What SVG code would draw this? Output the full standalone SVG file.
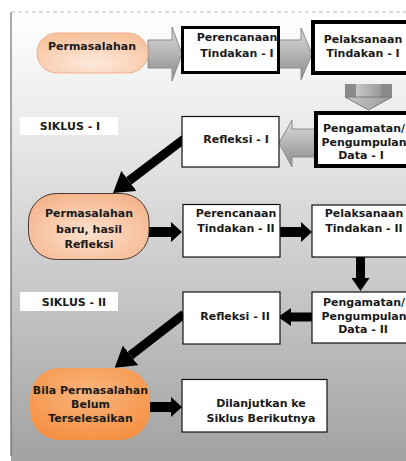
<svg xmlns="http://www.w3.org/2000/svg" width="406" height="461" viewBox="0 0 406 461">
<defs>
<linearGradient id="bg" x1="0" y1="0" x2="0" y2="1">
<stop offset="0" stop-color="#ffffff"/>
<stop offset="0.3" stop-color="#e6e6e6"/>
<stop offset="0.65" stop-color="#c4c4c4"/>
<stop offset="1" stop-color="#a2a2a2"/>
</linearGradient>
<linearGradient id="grayArrow" x1="0" y1="0" x2="0" y2="1">
<stop offset="0" stop-color="#dcdcdc"/>
<stop offset="1" stop-color="#8a8a8a"/>
</linearGradient>
<linearGradient id="grayArrowV" x1="0" y1="0" x2="1" y2="0">
<stop offset="0" stop-color="#c8c8c8"/>
<stop offset="1" stop-color="#9a9a9a"/>
</linearGradient>
<radialGradient id="pill1" cx="0.5" cy="0.75" r="0.7">
<stop offset="0" stop-color="#fde9dc"/>
<stop offset="1" stop-color="#f8c39f"/>
</radialGradient>
<radialGradient id="pill2" cx="0.5" cy="0.6" r="0.7">
<stop offset="0" stop-color="#fde1cd"/>
<stop offset="1" stop-color="#f4b087"/>
</radialGradient>
<radialGradient id="pill3" cx="0.5" cy="0.35" r="0.75">
<stop offset="0" stop-color="#f9b67f"/>
<stop offset="1" stop-color="#f58c3c"/>
</radialGradient>
<marker id="headH" markerUnits="userSpaceOnUse" markerWidth="11" markerHeight="20" viewBox="0 0 11 20" refX="0" refY="10" orient="auto">
<path d="M0,0 L11,10 L0,20 z" fill="#000"/>
</marker>
<marker id="headS" markerUnits="userSpaceOnUse" markerWidth="13" markerHeight="18" viewBox="0 0 13 18" refX="0" refY="9" orient="auto">
<path d="M0,0 L13,9 L0,18 z" fill="#000"/>
</marker>
<marker id="headD" markerUnits="userSpaceOnUse" markerWidth="20" markerHeight="25" viewBox="0 0 20 25" refX="0" refY="12.5" orient="auto">
<path d="M0,0 L20,12.5 L0,25 z" fill="#000"/>
</marker>
</defs>
<style>
text{font-family:"DejaVu Sans","Verdana",sans-serif;font-weight:bold;font-size:11px;fill:#1a1a1a;text-anchor:middle}
.box{fill:#fff;stroke:#111;stroke-width:1.2}
.thick3{fill:#fff;stroke:#000;stroke-width:3}
.thick4{fill:#fff;stroke:#000;stroke-width:4}
.blk{stroke:#000;fill:none}
.gray{fill:url(#grayArrow);stroke:#8c8c8c;stroke-width:1}
.label{fill:#fff}
</style>
<rect x="11" y="12" width="400" height="449" fill="url(#bg)"/>
<line x1="11" y1="12" x2="11" y2="456" stroke="#555" stroke-width="1"/>
<line x1="11" y1="12" x2="406" y2="12" stroke="#bbb" stroke-width="1" stroke-dasharray="4 3"/>

<g id="connectors">
<polygon class="gray" points="148,40 172,40 172,27 182,54 172,81 172,68 148,68"/>
<polygon class="gray" points="279,40 301,40 301,28 312,54 301,80 301,68 279,68"/>
<rect x="345" y="84" width="47" height="13" fill="#8a8a8a"/>
<rect x="356" y="84" width="25" height="14" fill="url(#grayArrowV)"/>
<polygon points="345,97 392,97 368.5,110" fill="url(#grayArrowV)" stroke="#7a7a7a" stroke-width="1"/>
<polygon class="gray" points="315,129 292,129 292,120 279,143 292,167 292,157 315,157"/>
<line class="blk" x1="184" y1="139" x2="128.9" y2="180.9" stroke-width="9" marker-end="url(#headD)"/>
<line class="blk" x1="149" y1="232" x2="171" y2="232" stroke-width="10" marker-end="url(#headH)"/>
<line class="blk" x1="280" y1="232" x2="301" y2="232" stroke-width="10" marker-end="url(#headH)"/>
<line class="blk" x1="360.5" y1="257" x2="360.5" y2="278" stroke-width="9" marker-end="url(#headS)"/>
<line class="blk" x1="312" y1="317" x2="291" y2="317" stroke-width="9" marker-end="url(#headS)"/>
<line class="blk" x1="184" y1="314" x2="130.5" y2="355.4" stroke-width="9" marker-end="url(#headD)"/>
<line class="blk" x1="150" y1="407" x2="171" y2="407" stroke-width="10" marker-end="url(#headH)"/>
</g>

<g id="siklus1">
<rect class="label" x="20" y="117" width="98" height="18"/>
<text x="70" y="130">SIKLUS - I</text>
</g>
<g id="siklus2">
<rect class="label" x="20" y="292" width="98" height="19"/>
<text x="74" y="306">SIKLUS - II</text>
</g>

<g id="permasalahan">
<rect x="37" y="33" width="111" height="40" rx="20" fill="url(#pill1)" stroke="#f0b088" stroke-width="1"/>
<text x="92" y="50">Permasalahan</text>
</g>
<g id="perencanaan1">
<rect class="thick3" x="182.5" y="27.5" width="96" height="45"/>
<text x="237" y="41">Perencanaan</text>
<text x="237" y="57">Tindakan - I</text>
</g>
<g id="pelaksanaan1">
<rect class="thick4" x="313" y="22" width="100" height="51"/>
<text x="363" y="43">Pelaksanaan</text>
<text x="363" y="57">Tindakan - I</text>
</g>
<g id="pengamatan1">
<rect class="thick4" x="316" y="113" width="100" height="53"/>
<text x="364" y="132">Pengamatan/</text>
<text x="364" y="146">Pengumpulan</text>
<text x="361" y="159">Data - I</text>
</g>
<g id="refleksi1">
<rect class="box" x="182" y="116.5" width="97" height="50.5"/>
<text x="236" y="143">Refleksi - I</text>
</g>

<g id="permasalahanBaru">
<rect x="28.5" y="193.5" width="120.5" height="66" rx="28" fill="url(#pill2)" stroke="#4a3a30" stroke-width="1"/>
<text x="89" y="217">Permasalahan</text>
<text x="89" y="233">baru, hasil</text>
<text x="89" y="248">Refleksi</text>
</g>
<g id="perencanaan2">
<rect class="box" x="183" y="204.5" width="97" height="52.5"/>
<text x="236" y="217">Perencanaan</text>
<text x="236" y="232">Tindakan - II</text>
</g>
<g id="pelaksanaan2">
<rect class="box" x="312" y="205" width="100" height="52"/>
<text x="364" y="217">Pelaksanaan</text>
<text x="364" y="232">Tindakan - II</text>
</g>
<g id="pengamatan2">
<rect class="box" x="312" y="292" width="100" height="51"/>
<text x="364" y="306">Pengamatan/</text>
<text x="364" y="320">Pengumpulan</text>
<text x="363" y="333">Data - II</text>
</g>
<g id="refleksi2">
<rect class="box" x="183" y="292" width="97" height="52"/>
<text x="235" y="320">Refleksi - II</text>
</g>

<g id="bila">
<rect x="30" y="368" width="120" height="72" rx="30" fill="url(#pill3)"/>
<text x="90.5" y="394">Bila Permasalahan</text>
<text x="90.5" y="408">Belum</text>
<text x="90.5" y="422">Terselesaikan</text>
</g>
<g id="dilanjutkan">
<rect class="box" x="182" y="379.5" width="145" height="52.5"/>
<text x="261" y="407">Dilanjutkan ke</text>
<text x="261" y="422">Siklus Berikutnya</text>
</g>
</svg>
